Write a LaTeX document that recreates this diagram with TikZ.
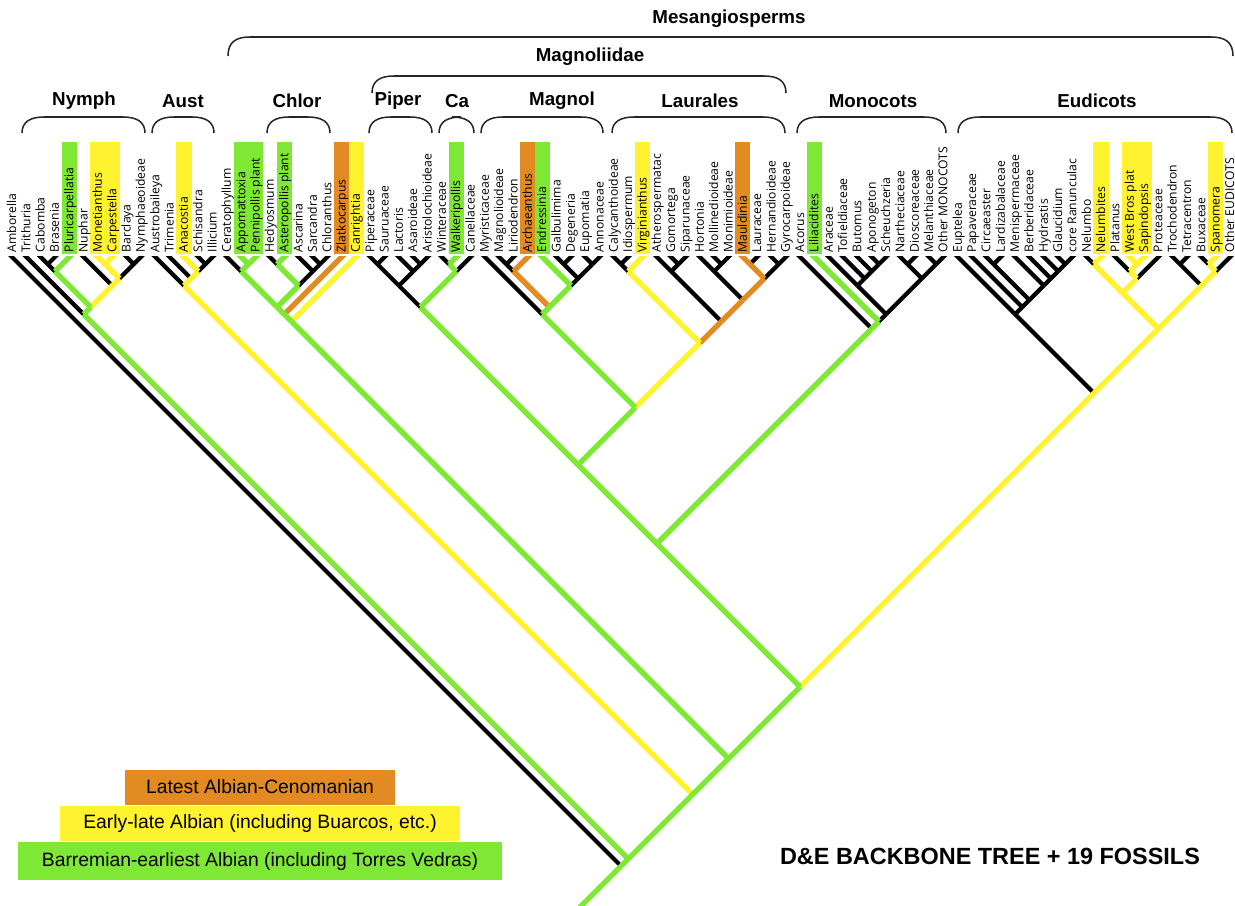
\documentclass[tikz,border=0pt]{standalone}
\usepackage{fontspec}
\setmainfont{Liberation Sans}
\newfontfamily\taxfont{Open Sans}
\usetikzlibrary{positioning,calc}
\definecolor{fgreen}{HTML}{7FE835}
\definecolor{fyellow}{HTML}{FFF22E}
\definecolor{forange}{HTML}{E38B23}

% node of the clade spanning tips #1..#2
\newcommand\clade[2]{\coordinate (c#1-#2) at ({12+7.165*(#1+#2)},{257+7.165*(#2-#1)});}
% group bracket: left x, right x, top y, bottom y
\newcommand\grpbracket[4]{\draw[brack] (#1,#4) .. controls (#1,#3+5) and (#1+8,#3) .. (#1+22,#3) -- (#2-22,#3) .. controls (#2-8,#3) and (#2,#3+5) .. (#2,#4);}

\begin{document}
\begin{tikzpicture}[
    x=0.03cm, y=-0.03cm,
    blk/.style={line width=3.6pt,black},
    yel/.style={line width=4.6pt,fyellow},
    org/.style={line width=4.6pt,forange},
    grn/.style={line width=4.6pt,fgreen},
    tipln/.style={shorten <=-6pt},
    taxon/.style={rotate=90,anchor=base west,inner sep=0pt,font=\taxfont\fontsize{10.4}{12}\selectfont},
    grp/.style={font=\bfseries\fontsize{16}{18}\selectfont},
    brack/.style={line width=1.3pt,black!85},
    legbox/.style={minimum height=1.05cm,inner sep=0pt,font=\fontsize{16.5}{19}\selectfont}
]
\useasboundingbox (0,0) rectangle (1235,906);

% fossil highlights
\foreach \a/\b/\c in {4/4/fgreen,16/17/fgreen,19/19/fgreen,31/31/fgreen,37/37/fgreen,56/56/fgreen,
    6/7/fyellow,12/12/fyellow,24/24/fyellow,44/44/fyellow,76/76/fyellow,78/79/fyellow,84/84/fyellow,
    23/23/forange,36/36/forange,51/51/forange}
  \fill[\c] ({12+14.33*\a-7.6},142) rectangle ({12+14.33*\b+7.6},254);

% taxa
\foreach \name [count=\i from 0] in {Amborella,Trithuria,Cabomba,Brasenia,Pluricarpellatia,Nuphar,Monetianthus,Carpestella,Barclaya,Nymphaeoideae,
    Austrobaileya,Trimenia,Anacostia,Schisandra,Illicium,
    Ceratophyllum,Appomattoxia,Pennipollis plant,Hedyosmum,Asteropollis plant,Ascarina,Sarcandra,Chloranthus,Zlatkocarpus,Canrightia,
    Piperaceae,Sauruaceae,Lactoris,Asaroideae,Aristolochioideae,Winteraceae,Walkeripollis,Canellaceae,
    Myristicaceae,Magnolioideae,Liriodendron,Archaeanthus,Endressinia,Galbulimima,Degeneria,Eupomatia,Annonaceae,
    Calycanthoideae,Idiospermum,Virginianthus,Atherospermatac,Gomortega,Siparunaceae,Hortonia,Mollinedioideae,Monimioideae,Mauldinia,Lauraceae,Hernandioideae,Gyrocarpoideae,
    Acorus,Liliacidites,Araceae,Tofieldiaceae,Butomus,Aponogeton,Scheuchzeria,Nartheciaceae,Dioscoreaceae,Melanthiaceae,Other MONOCOTS,
    Euptelea,Papaveraceae,Circaeaster,Lardizabalaceae,Menispermaceae,Berberidaceae,Hydrastis,Glaucidium,core Ranunculac,
    Nelumbo,Nelumbites,Platanus,West Bros plat,Sapindopsis,Proteaceae,Trochodendron,Tetracentron,Buxaceae,Spanomera,Other EUDICOTS}
{
  \node[taxon] (l\i) at ({12+14.33*\i+4},252.5) {\name};
  \coordinate (t\i) at ({12+14.33*\i},257);
}

% clade nodes
\foreach \a/\b in {0/85,1/85,1/9,2/9,2/4,2/3,5/9,6/9,6/7,8/9,10/85,10/14,11/14,12/14,13/14,
    15/85,15/24,15/23,15/22,15/17,16/17,18/22,18/19,20/22,21/22,
    25/85,25/65,25/54,25/32,25/29,25/26,27/29,28/29,30/32,30/31,
    33/54,33/41,34/41,34/36,34/35,37/41,38/41,38/39,40/41,
    42/54,42/44,42/43,45/54,45/47,46/47,48/54,48/50,49/50,51/54,51/52,53/54,
    55/65,56/65,57/65,57/61,58/61,59/61,60/61,62/65,62/63,64/65,
    66/85,66/74,67/74,68/74,68/69,70/74,71/74,72/74,73/74,
    75/85,75/80,75/76,77/80,77/79,78/79,81/85,81/82,83/85,83/84}
  \clade\a\b
\coordinate (stem) at ($(c0-85)+(-45,45)$);

\begin{scope}
\clip (0,257) rectangle (1235,906);
% backbone
\foreach \a/\b in {0/0-85,1/1-9,2/2-3,3/2-3,5/5-9,8/8-9,9/8-9,10/10-14,11/11-14,13/13-14,14/13-14,
    15/15-17,18/18-19,20/20-22,21/21-22,22/21-22,25/25-26,26/25-26,27/27-29,28/28-29,29/28-29,
    30/30-31,32/30-32,33/33-41,34/34-35,35/34-35,38/38-39,39/38-39,40/40-41,41/40-41,
    42/42-43,43/42-43,45/45-47,46/46-47,47/46-47,48/48-50,49/49-50,50/49-50,52/51-52,53/53-54,54/53-54,
    55/55-65,57/57-61,58/58-61,59/59-61,60/60-61,61/60-61,62/62-63,63/62-63,64/64-65,65/64-65,
    66/66-74,67/67-74,68/68-69,69/68-69,70/70-74,71/71-74,72/72-74,73/73-74,74/73-74,
    75/75-76,77/77-79,80/77-80,81/81-82,82/81-82,83/83-84,85/83-85}
  \draw[blk,tipln] (t\a) -- (c\b);
\foreach \a/\b in {2-3/2-4,8-9/6-9,13-14/12-14,21-22/20-22,20-22/18-22,25-26/25-29,28-29/27-29,27-29/25-29,25-29/25-32,
    34-35/34-36,38-39/38-41,40-41/38-41,38-41/37-41,42-43/42-44,46-47/45-47,45-47/45-54,49-50/48-50,48-50/48-54,53-54/51-54,
    60-61/59-61,59-61/58-61,58-61/57-61,57-61/57-65,62-63/62-65,64-65/62-65,62-65/57-65,57-65/56-65,
    68-69/68-74,73-74/72-74,72-74/71-74,71-74/70-74,70-74/68-74,68-74/67-74,67-74/66-74,66-74/66-85,81-82/81-85}
  \draw[blk] (c\a) -- (c\b);

% latest Albian-Cenomanian
\foreach \a/\b in {23/15-23,36/34-36,51/51-52}
  \draw[org,tipln] (t\a) -- (c\b);
\foreach \a/\b in {34-36/34-41,51-52/51-54,51-54/48-54,48-54/45-54,45-54/42-54}
  \draw[org] (c\a) -- (c\b);

% early-late Albian
\foreach \a/\b in {6/6-7,7/6-7,12/12-14,24/15-24,44/42-44,76/75-76,78/78-79,79/78-79,84/83-84}
  \draw[yel,tipln] (t\a) -- (c\b);
\foreach \a/\b in {6-7/6-9,6-9/5-9,5-9/2-9,12-14/11-14,11-14/10-14,10-14/10-85,42-44/42-54,42-54/33-54,
    75-76/75-80,78-79/77-79,77-79/77-80,77-80/75-80,75-80/75-85,83-84/83-85,83-85/81-85,81-85/75-85,75-85/66-85,66-85/25-85}
  \draw[yel] (c\a) -- (c\b);

% Barremian-earliest Albian
\foreach \a/\b in {4/2-4,16/16-17,17/16-17,19/18-19,31/30-31,37/37-41,56/56-65}
  \draw[grn,tipln] (t\a) -- (c\b);
\foreach \a/\b in {2-4/2-9,2-9/1-9,1-9/1-85,16-17/15-17,15-17/15-22,18-19/18-22,18-22/15-22,15-22/15-23,15-23/15-24,15-24/15-85,
    30-31/30-32,30-32/25-32,25-32/25-54,37-41/34-41,34-41/33-41,33-41/33-54,33-54/25-54,25-54/25-65,
    56-65/55-65,55-65/25-65,25-65/25-85,25-85/15-85,15-85/10-85,10-85/1-85,1-85/0-85}
  \draw[grn] (c\a) -- (c\b);
\draw[grn] (c0-85) -- (stem);
\end{scope}

% groups
\grpbracket{228}{1233}{37}{56}
\node[grp] (meso) at (729,19) {Mesangiosperms};
\grpbracket{372}{786}{76}{93}
\node[grp] (magnoliid) at (590,57) {Magnoliidae};
\foreach \l/\r/\xm/\txt in {22/145/84/Nymph,152/214/183/Aust,267/330/297/Chlor,369/432/398/Piper,439/474/457/Ca,
    481/603/562/Magnol,612/785/700/Laurales,797/946/873/Monocots,958/1232/1097/Eudicots}
{
  \grpbracket{\l}{\r}{117}{133}
  \node[grp] (g\txt) at (\xm,101) {\txt};
}

% legend
\node[legbox,fill=forange,minimum width=8.1cm] (lgOrg) at (260,787) {Latest Albian-Cenomanian};
\node[legbox,fill=fyellow,minimum width=12cm] (lgYel) at (260,823) {Early-late Albian (including Buarcos, etc.)};
\node[legbox,fill=fgreen,minimum width=14.52cm,minimum height=1.12cm] (lgGrn) at (260,861) {Barremian-earliest Albian (including Torres Vedras)};
\node[font=\bfseries\fontsize{20}{24}\selectfont] (title) at (990,856) {D\&E BACKBONE TREE + 19 FOSSILS};
\end{tikzpicture}
\end{document}
